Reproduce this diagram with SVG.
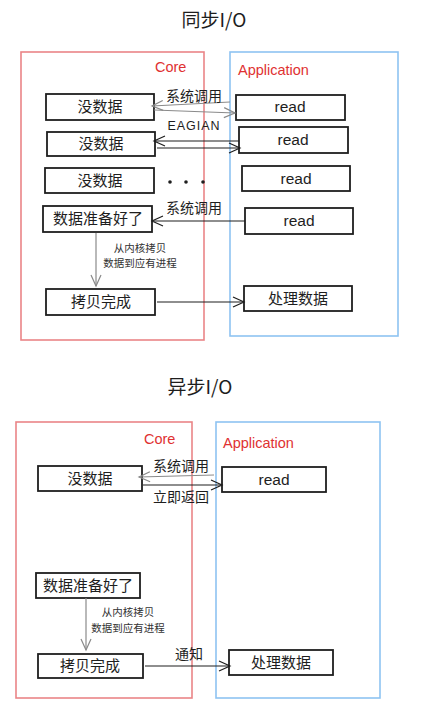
<svg xmlns="http://www.w3.org/2000/svg" width="423" height="721" viewBox="0 0 423 721">
<defs>
<style>
.bg{fill:#ffffff}
.core{fill:none;stroke:#e8787a;stroke-width:1.6;opacity:0.9}
.app{fill:none;stroke:#8ec3f2;stroke-width:1.6}
.box{fill:#ffffff;stroke:#1e1e1e;stroke-width:1.8}
.t{font-family:"Noto Sans CJK SC","Liberation Sans",sans-serif;fill:#1e1e1e;text-anchor:middle}
.n{font-size:15px}
.lbl{font-size:14px}
.sm{font-size:10.5px;fill:#333}
.title{font-size:19px}
.red{font-family:"Liberation Sans","DejaVu Sans",sans-serif;fill:#e03131;font-size:14.5px}
.rd{font-family:"Liberation Sans","DejaVu Sans",sans-serif;font-size:15.5px;fill:#1e1e1e;text-anchor:middle}
.cg{fill:none;stroke:#8a8a8a;stroke-width:1.2}
.cd{fill:none;stroke:#1e1e1e;stroke-width:1.2}
</style>
<marker id="ag" markerUnits="userSpaceOnUse" markerWidth="14" markerHeight="12" refX="12" refY="6" orient="auto">
<path d="M1,1 L12,6 L1,11" fill="none" stroke="#8a8a8a" stroke-width="1.2"/>
</marker>
<marker id="ad" markerUnits="userSpaceOnUse" markerWidth="14" markerHeight="12" refX="12" refY="6" orient="auto">
<path d="M1,1 L12,6 L1,11" fill="none" stroke="#1e1e1e" stroke-width="1.2"/>
</marker>
</defs>
<rect class="bg" x="0" y="0" width="423" height="721"/>

<g id="sync">
<text class="t title" x="214" y="27">同步I/O</text>
<g id="sync-core-area"><rect class="core" x="21" y="52" width="183" height="288"/><text class="red" x="155" y="72">Core</text></g>
<g id="sync-app-area"><rect class="app" x="230" y="52" width="168" height="284"/><text class="red" x="238" y="75">Application</text></g>

<g id="s-nodata1"><rect class="box" x="46" y="94" width="108" height="26"/><text class="t n" x="100" y="112">没数据</text></g>
<g id="s-read1"><rect class="box" x="236" y="95" width="109" height="25"/><text class="rd" x="290" y="112">read</text></g>
<g id="s-nodata2"><rect class="box" x="47" y="132" width="108" height="24"/><text class="t n" x="101" y="149">没数据</text></g>
<g id="s-read2"><rect class="box" x="239" y="127" width="109" height="26"/><text class="rd" x="293" y="145">read</text></g>
<g id="s-nodata3"><rect class="box" x="45" y="168" width="109" height="25"/><text class="t n" x="100" y="186">没数据</text></g>
<g id="s-read3"><rect class="box" x="242" y="166" width="108" height="25"/><text class="rd" x="296" y="184">read</text></g>
<g id="s-dots"><circle cx="170" cy="182" r="1.8" fill="#1e1e1e"/><circle cx="186" cy="182" r="1.8" fill="#1e1e1e"/><circle cx="203" cy="182" r="1.8" fill="#1e1e1e"/></g>
<g id="s-ready"><rect class="box" x="43" y="206" width="109" height="26"/><text class="t n" x="98" y="224">数据准备好了</text></g>
<g id="s-read4"><rect class="box" x="245" y="208" width="108" height="26"/><text class="rd" x="299" y="226">read</text></g>
<g id="s-copied"><rect class="box" x="46" y="289" width="109" height="26"/><text class="t n" x="101" y="307">拷贝完成</text></g>
<g id="s-process"><rect class="box" x="244" y="286" width="108" height="25"/><text class="t n" x="298" y="304">处理数据</text></g>

<g id="s-connectors">
<path class="cg" d="M230,102 L152,106" marker-end="url(#ag)"/>
<path class="cg" d="M154,110 L235,113" marker-end="url(#ag)"/>
<text class="t lbl" x="194" y="101">系统调用</text>
<path class="cd" d="M239,141 L154,141" marker-end="url(#ad)"/>
<path class="cd" d="M157,148 L240,148" marker-end="url(#ad)"/>
<text class="rd" x="194" y="130" style="font-size:12.5px;letter-spacing:1px">EAGIAN</text>
<path class="cd" d="M245,221 L152,221" marker-end="url(#ad)"/>
<text class="t lbl" x="194" y="213">系统调用</text>
<path class="cg" d="M96,233 L96,286" marker-end="url(#ag)"/>
<text class="t sm" x="140" y="252">从内核拷贝</text>
<text class="t sm" x="140" y="267">数据到应有进程</text>
<path class="cd" d="M157,302 L244,302" marker-end="url(#ad)"/>
</g>
</g>

<g id="async">
<text class="t title" x="200" y="394">异步I/O</text>
<g id="async-core-area"><rect class="core" x="16" y="422" width="176" height="276"/><text class="red" x="144" y="444">Core</text></g>
<g id="async-app-area"><rect class="app" x="216" y="422" width="164" height="276"/><text class="red" x="223" y="448">Application</text></g>

<g id="a-nodata"><rect class="box" x="38" y="466" width="104" height="25"/><text class="t n" x="90" y="484">没数据</text></g>
<g id="a-read"><rect class="box" x="222" y="467" width="104" height="25"/><text class="rd" x="274" y="485">read</text></g>
<g id="a-ready"><rect class="box" x="36" y="573" width="104" height="25"/><text class="t n" x="88" y="591">数据准备好了</text></g>
<g id="a-copied"><rect class="box" x="38" y="654" width="105" height="24"/><text class="t n" x="90" y="671">拷贝完成</text></g>
<g id="a-process"><rect class="box" x="229" y="650" width="104" height="25"/><text class="t n" x="281" y="668">处理数据</text></g>

<g id="a-connectors">
<path class="cg" d="M214,475 L139,477" marker-end="url(#ag)"/>
<text class="t lbl" x="181" y="471">系统调用</text>
<path class="cd" d="M143,485 L222,485" marker-end="url(#ad)"/>
<text class="t lbl" x="181" y="502">立即返回</text>
<path class="cg" d="M86,598 L86,650" marker-end="url(#ag)"/>
<text class="t sm" x="128" y="616">从内核拷贝</text>
<text class="t sm" x="128" y="632">数据到应有进程</text>
<path class="cd" d="M145,666 L230,666" marker-end="url(#ad)"/>
<text class="t lbl" x="189" y="659">通知</text>
</g>
</g>
</svg>
